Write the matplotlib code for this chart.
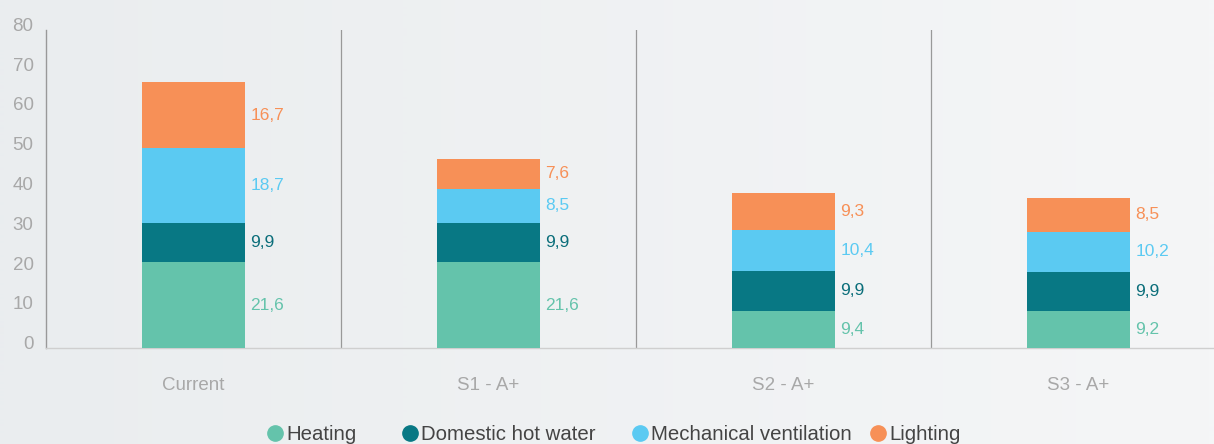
import matplotlib
matplotlib.use("Agg")
import matplotlib.pyplot as plt
import matplotlib.transforms as mtransforms
from matplotlib.colors import LinearSegmentedColormap
import numpy as np

categories = ["Current", "S1 - A+", "S2 - A+", "S3 - A+"]
series_names = ["Heating", "Domestic hot water", "Mechanical ventilation", "Lighting"]
heating = [21.6, 21.6, 9.4, 9.2]
dhw = [9.9, 9.9, 9.9, 9.9]
ventilation = [18.7, 8.5, 10.4, 10.2]
lighting = [16.7, 7.6, 9.3, 8.5]
colors = ["#64c3ab", "#087884", "#5bcaf2", "#f79057"]
yticks = [0, 10, 20, 30, 40, 50, 60, 70, 80]

plt.rcParams['font.family'] = ['Liberation Sans', 'DejaVu Sans']

W, H = 1214, 444
fig = plt.figure(figsize=(W/100, H/100), dpi=100)

# background gradient
bg = fig.add_axes([0, 0, 1, 1], zorder=-10)
grad = np.linspace(0, 1, W)[None, :]
cmap = LinearSegmentedColormap.from_list("bg", ["#eaedef", "#f5f6f7"])
bg.imshow(grad, aspect="auto", cmap=cmap, extent=[0, 1, 0, 1], interpolation="bilinear")
bg.set_xlim(0, 1); bg.set_ylim(0, 1)
bg.axis("off")

ax = fig.add_axes([46/W, 1 - 348/H, (1226 - 46)/W, (348 - 30)/H])
ax.patch.set_alpha(0)

x = np.arange(len(categories))
width = 0.35
series = [heating, dhw, ventilation, lighting]
bottoms = np.zeros(len(categories))
for vals, col, name in zip(series, colors, series_names):
    vals = np.array(vals)
    ax.bar(x, vals, width, bottom=bottoms, color=col, label=name, zorder=3)
    for xi, b, v in zip(x, bottoms, vals):
        ax.text(xi + width/2 + 0.018, b + v/2, f"{v:.1f}".replace(".", ","),
                color=col if col != "#087884" else "#0b6e7a",
                fontsize=12.5, va="center", ha="left")
    bottoms += vals

ax.set_xlim(-0.5, 3.5)
ax.set_ylim(0, 80)
ax.set_yticks(yticks)
ax.set_xticks(x)
ax.set_xticklabels(categories, color="#a8a8a8", fontsize=13.5)
ax.tick_params(axis="x", length=0, pad=21)
ax.tick_params(axis="y", length=0, labelsize=13.5, labelcolor="#a8a8a8", pad=9)
offset = mtransforms.ScaledTranslation(0, 5.5/100, fig.dpi_scale_trans)
for lbl in ax.get_yticklabels():
    lbl.set_transform(lbl.get_transform() + offset)

for s in ["top", "right"]:
    ax.spines[s].set_visible(False)
ax.spines["left"].set_color("#999999")
ax.spines["left"].set_linewidth(1)
ax.spines["bottom"].set_color("#cfcfcf")
ax.spines["bottom"].set_linewidth(1)

for sep in [0.5, 1.5, 2.5]:
    ax.axvline(sep, color="#999999", linewidth=0.9, zorder=1)

# legend placed manually
legend_x = [275, 410, 640, 878]
legend_y = 433
for lx, name, col in zip(legend_x, series_names, colors):
    bg.plot([lx / W], [1 - legend_y / H], marker="o", markersize=11,
            color=col, linestyle="", transform=bg.transAxes, clip_on=False)
    bg.text((lx + 11) / W, 1 - (legend_y + 1) / H, name, color="#444444",
            fontsize=14.7, va="center", ha="left", transform=bg.transAxes)

fig.savefig("out.png", dpi=100)
